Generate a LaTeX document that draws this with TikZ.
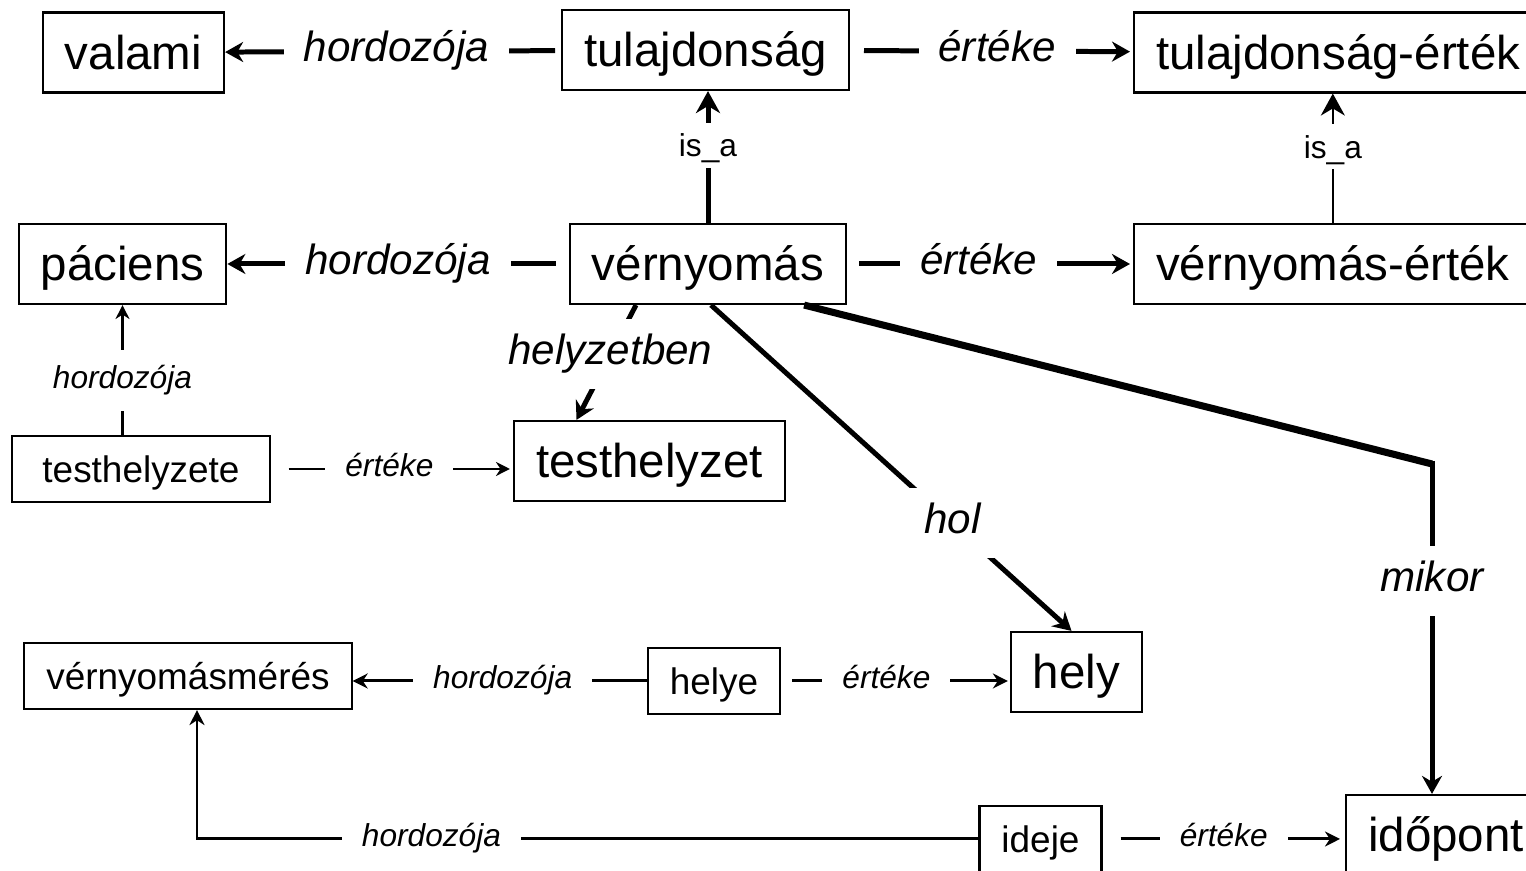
\documentclass[tikz,border=0pt]{standalone}
\usepackage{fontspec}
\setmainfont{Liberation Sans}
\usetikzlibrary{arrows.meta,calc}

\begin{document}
\begin{tikzpicture}[
  x=0.01cm,y=-0.01cm,
  box/.style={rectangle,draw=black,line width=0.6pt,inner xsep=0.22cm,inner ysep=0pt,minimum height=0.8cm,text height=0.34cm,text depth=0pt,font=\fontsize{13.5pt}{16pt}\selectfont},
  smallbox/.style={box,minimum height=0.66cm,text height=0.265cm,font=\fontsize{10.5pt}{12pt}\selectfont},
  lbl/.style={fill=white,inner xsep=0.2cm,inner ysep=0.155cm,text height=0.3cm,text depth=0.09cm,font=\fontsize{12pt}{14pt}\selectfont\itshape},
  smalllbl/.style={lbl,text height=0.23cm,text depth=0.07cm,font=\fontsize{9pt}{11pt}\selectfont\itshape},
  isa/.style={fill=white,inner xsep=0.1cm,inner ysep=0.07cm,text height=0.27cm,text depth=0.04cm,font=\fontsize{9pt}{11pt}\selectfont},
  heavy/.style={line width=1.42pt,-{Stealth[length=0.18cm,width=0.2cm]}},
  medium/.style={line width=0.85pt,-{Stealth[length=0.15cm,width=0.15cm]}},
  light/.style={line width=0.57pt,-{Stealth[length=0.14cm,width=0.14cm]}},
  bighead/.style={-{Stealth[length=0.22cm,width=0.24cm]}}
]

\useasboundingbox (0,0) rectangle (1526,871);

\node[box] (valami) at (133.5,52.5) {valami};
\node[box] (tul) at (705.5,50) {tulajdonság};
\node[box,anchor=west] (tulert) at (1133,52.5) {tulajdonság-érték};
\node[box] (pac) at (122.5,264) {páciens};
\node[box] (vny) at (708,264) {vérnyomás};
\node[box,anchor=west] (vnyert) at (1133,264) {vérnyomás-érték};
\node[smallbox,minimum width=2.57cm] (tsz) at (141,469) {testhelyzete};
\node[box] (tszt) at (649.5,461) {testhelyzet};
\node[smallbox] (vmm) at (188,676) {vérnyomásmérés};
\node[smallbox] (helye) at (714,681) {helye};
\node[box] (hely) at (1076.5,672) {hely};
\node[smallbox] (ideje) at (1040.5,839) {ideje};
\node[box,anchor=west] (ido) at (1345,835) {időpont};

\coordinate (knee) at (1432,464);
\coordinate (vmmfoot) at ($(vmm.south)+(9,0)$);

\draw[heavy,shorten <=0.06cm] (tul) -- node[lbl,pos=0.49] {hordozója} (valami);
\draw[heavy,shorten <=0.14cm,shorten >=0.03cm] (tul) -- node[lbl,pos=0.52] {értéke} (tulert);
\draw[heavy,bighead] (vny.north) -- node[isa,pos=0.59] {is\_a} (vny.north |- tul.south);
\draw[light,bighead] (vnyert.north) -- node[isa,pos=0.59] {is\_a} (vnyert.north |- tulert.south);

\draw[heavy,shorten <=0.13cm] (vny) -- node[lbl,pos=0.5] {hordozója} (pac);
\draw[heavy,shorten <=0.12cm,shorten >=0.03cm] (vny) -- node[lbl,pos=0.46] {értéke} (vnyert);

\draw[light] (tsz.north -| pac) -- node[smalllbl,pos=0.42] {hordozója} (pac);
\draw[light,shorten <=0.18cm,shorten >=0.03cm] (tsz.east) -- node[smalllbl,pos=0.49] {értéke} (tsz.east -| tszt.west);

\draw[heavy] ($(vny.south)+(-72,0)$) -- node[lbl,pos=0.43] {helyzetben} ($(tszt.north)+(-73,0)$);
\draw[heavy] ($(vny.south)+(3,0)$) -- node[lbl,pos=0.67] {hol} ($(hely.north)+(-5,0)$);
\draw[line width=2pt] ($(vny.south east)+(-43,0)$) -- (knee);
\draw[heavy] ($(knee)+(0,-3)$) -- node[lbl,pos=0.36] {mikor} (knee |- ido.north);

\draw[medium] (helye.west) -- node[smalllbl,pos=0.49] {hordozója} (helye.west -| vmm.east);
\draw[medium,shorten <=0.11cm,shorten >=0.02cm] (helye.east) -- node[smalllbl,pos=0.46] {értéke} (helye.east -| hely.west);

\draw[medium] (ideje.west) -- node[smalllbl,pos=0.7] {hordozója} (ideje.west -| vmmfoot) -- (vmmfoot);
\draw[medium,shorten <=0.18cm,shorten >=0.05cm] (ideje.east) -- node[smalllbl,pos=0.5] {értéke} (ideje.east -| ido.west);

\end{tikzpicture}
\end{document}
